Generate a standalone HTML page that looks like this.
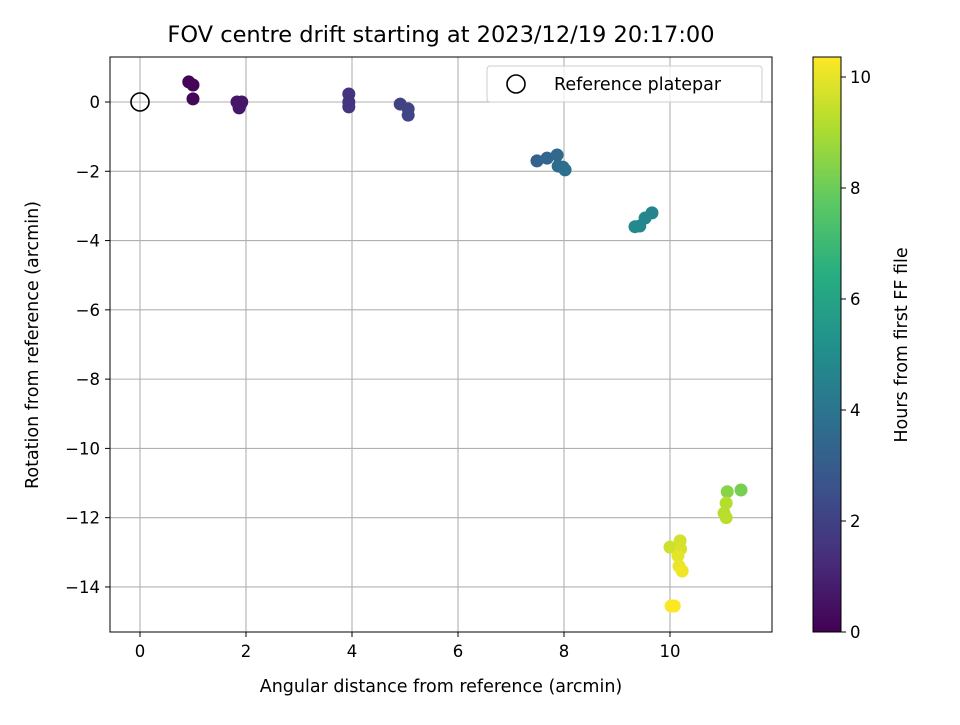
<!DOCTYPE html>
<html><head><meta charset="utf-8"><style>
body{margin:0;background:#fff;}
svg text{font-family:"DejaVu Sans","Liberation Sans",sans-serif;fill:#000;}
</style></head><body>
<svg id="chart" width="960" height="720" xmlns="http://www.w3.org/2000/svg">
<defs>
<linearGradient id="vir" x1="0" y1="1" x2="0" y2="0">
<stop offset="0" stop-color="#440154"/><stop offset="0.125" stop-color="#472d7b"/>
<stop offset="0.25" stop-color="#3b528b"/><stop offset="0.375" stop-color="#2c728e"/>
<stop offset="0.5" stop-color="#21918c"/><stop offset="0.625" stop-color="#28ae80"/>
<stop offset="0.75" stop-color="#5ec962"/><stop offset="0.875" stop-color="#addc30"/>
<stop offset="1" stop-color="#fde725"/></linearGradient>
</defs>
<text x="441" y="42" font-size="22.5" text-anchor="middle">FOV centre drift starting at 2023/12/19 20:17:00</text>
<g id="grid"></g>
<g id="ticks"></g>
<g id="points"></g>
<rect x="110" y="57" width="662" height="575" fill="none" stroke="#000" stroke-width="1"/>
<text x="441" y="692" font-size="17.5" text-anchor="middle">Angular distance from reference (arcmin)</text>
<text transform="translate(38,345) rotate(-90)" font-size="17.5" text-anchor="middle">Rotation from reference (arcmin)</text>
<g>
<rect x="487" y="66" width="275" height="36" rx="3" fill="#fff" fill-opacity="0.8" stroke="#ccc"/>
<circle cx="516" cy="84" r="9" fill="none" stroke="#000" stroke-width="1.6"/>
<text x="554" y="90" font-size="17.5">Reference platepar</text>
</g>
<rect x="813" y="57" width="28" height="575" fill="url(#vir)" stroke="#000" stroke-width="1"/>
<g id="cticks"></g>
<text transform="translate(907,345) rotate(-90)" font-size="17.5" text-anchor="middle">Hours from first FF file</text>
</svg>
<script>
const xs=[0.92,1.0,1.0,1.83,1.92,1.87,1.90,3.94,3.94,3.94,4.91,5.06,5.06,7.49,7.68,7.87,7.89,7.98,8.02,9.66,9.53,9.43,9.34,11.34,11.08,11.06,11.02,11.06,10.0,10.19,10.2,10.15,10.17,10.23,10.02,10.08];
const ys=[0.58,0.49,0.09,0,0,-0.17,-0.05,0.23,0,-0.14,-0.06,-0.2,-0.38,-1.7,-1.62,-1.53,-1.85,-1.88,-1.96,-3.2,-3.35,-3.58,-3.6,-11.2,-11.25,-11.58,-11.87,-12.0,-12.85,-12.67,-12.9,-13.1,-13.4,-13.54,-14.55,-14.55];
const hours=[0.1,0.15,0.2,0.6,0.6,0.65,0.65,1.5,1.5,1.55,2.05,2.1,2.15,3.3,3.4,3.5,3.6,3.7,3.8,4.7,4.75,4.8,4.85,8.2,8.5,9.2,9.25,9.3,9.6,9.7,9.8,10.0,10.1,10.2,10.35,10.4];
const xTicks=[0,2,4,6,8,10];
const yTicks=[0,-2,-4,-6,-8,-10,-12,-14];
const cTicks=[0,2,4,6,8,10];
const X=v=>140+v*53, Y=v=>102-v*34.64, C=v=>632-v*55.5, HMAX=10.4;
const NS="http://www.w3.org/2000/svg";
const stops=["#440154","#472d7b","#3b528b","#2c728e","#21918c","#28ae80","#5ec962","#addc30","#fde725"];
function vir(t){t=Math.max(0,Math.min(1,t))*8;const i=Math.min(7,Math.floor(t)),f=t-i;
const a=stops[i],b=stops[i+1];let o="#";for(let k=1;k<7;k+=2){const p=parseInt(a.substr(k,2),16),q=parseInt(b.substr(k,2),16);o+=Math.round(p+(q-p)*f).toString(16).padStart(2,"0");}return o;}
function mk(tag,at,parent){const e=document.createElementNS(NS,tag);for(const k in at)e.setAttribute(k,at[k]);document.getElementById(parent).appendChild(e);return e;}
xTicks.forEach(v=>{const x=X(v);
const g=mk("line",{x1:x,x2:x,y1:57,y2:632,stroke:"#b0b0b0","stroke-width":1.1},"grid");


const t=mk("line",{x1:x,x2:x,y1:632,y2:637,stroke:"#000"},"ticks");


const l=mk("text",{x:x,y:657,"font-size":"16.5","text-anchor":"middle"},"ticks");l.textContent=v;

});
yTicks.forEach(v=>{const y=Y(v);
const g=mk("line",{x1:110,x2:772,y1:y,y2:y,stroke:"#b0b0b0","stroke-width":1.1},"grid");


const t=mk("line",{x1:105,x2:110,y1:y,y2:y,stroke:"#000"},"ticks");


const l=mk("text",{x:100,y:y+6,"font-size":"16.5","text-anchor":"end"},"ticks");l.textContent=v<0?"\u2212"+(-v):v;

});
cTicks.forEach(v=>{const y=C(v);
const t=mk("line",{x1:841,x2:846,y1:y,y2:y,stroke:"#000"},"cticks");


const l=mk("text",{x:850,y:y+6,"font-size":"16.5"},"cticks");l.textContent=v;

});
const ref=mk("circle",{cx:X(0),cy:Y(0),r:9,fill:"none",stroke:"#000","stroke-width":1.6},"points");


xs.forEach((v,i)=>{const c=mk("circle",{cx:X(v),cy:Y(ys[i]),r:6.5,fill:vir(hours[i]/HMAX)},"points");

});
</script>
</body></html>
